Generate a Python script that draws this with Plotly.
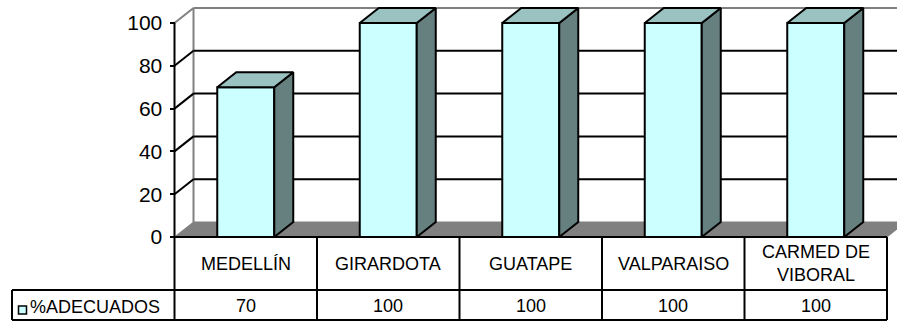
import plotly.graph_objects as go

# ---- data ----
categories = ["MEDELLÍN", "GIRARDOTA", "GUATAPE", "VALPARAISO", "CARMED DE<br>VIBORAL"]
series_name = "%ADECUADOS"
values = [70, 100, 100, 100, 100]
y_ticks = [0, 20, 40, 60, 80, 100]

# ---- style / geometry ----
W, H = 897, 322
FONT = "Liberation Sans"
FRONT = "#CCFFFF"
TOP = "#99C2C0"
SIDE = "#668080"
GRAY = "#808080"
BAR_W = 0.4
DX = 19 / 142.5      # depth offset in x units
DY = 15 / 2.14       # depth offset in y units
X_RANGE = [-0.5 - 174.5 / 142.5, 4.5 + 10 / 142.5]
Y_RANGE = [-(322 - 237) / 2.14, 100 + 23 / 2.14]
YMAX = y_ticks[-1]
TFS = 18


def py(p):  # pixel row -> paper y
    return 1 - p / H


def px(p):  # pixel column -> paper x
    return p / W


n = len(categories)
xs = list(range(n))
x_left = -0.5
x_right = n - 0.5

fig = go.Figure()

# front faces
fig.add_trace(go.Bar(x=xs, y=values, width=BAR_W, base=0,
                     marker=dict(color=FRONT, line=dict(color="black", width=2)),
                     hoverinfo="skip", showlegend=False))

# side and top faces
for x, v in zip(xs, values):
    r = x + BAR_W / 2
    l = x - BAR_W / 2
    fig.add_trace(go.Scatter(x=[r, r + DX, r + DX, r, r], y=[0, DY, v + DY, v, 0],
                             mode="lines", fill="toself", fillcolor=SIDE,
                             line=dict(color="black", width=2),
                             hoverinfo="skip", showlegend=False))
    fig.add_trace(go.Scatter(x=[l, l + DX, r + DX, r, l], y=[v, v + DY, v + DY, v, v],
                             mode="lines", fill="toself", fillcolor=TOP,
                             line=dict(color="black", width=2),
                             hoverinfo="skip", showlegend=False))

shapes = []
# floor
shapes.append(dict(type="path", xref="x", yref="y", layer="below",
                   path=f"M {x_left},0 L {x_right},0 L {x_right + DX},{DY} L {x_left + DX},{DY} Z",
                   fillcolor=GRAY, line=dict(color=GRAY, width=1)))
# back wall left edge
shapes.append(dict(type="line", xref="x", yref="y", layer="below",
                   x0=x_left + DX, x1=x_left + DX, y0=DY, y1=YMAX + DY,
                   line=dict(color=GRAY, width=2)))
# gridlines on back wall + side wall diagonals
for t in y_ticks[1:]:
    col = GRAY if t == YMAX else "black"
    shapes.append(dict(type="line", xref="x", yref="y", layer="below",
                       x0=x_left + DX, x1=X_RANGE[1] + 0.2, y0=t + DY, y1=t + DY,
                       line=dict(color=col, width=2)))
    shapes.append(dict(type="line", xref="x", yref="y", layer="below",
                       x0=x_left, x1=x_left + DX, y0=t, y1=t + DY,
                       line=dict(color=col, width=2)))

# front value axis line
shapes.append(dict(type="line", xref="x", yref="y", x0=x_left, x1=x_left, y0=0, y1=YMAX,
                   line=dict(color="black", width=2)))

# data table lines
row1 = py(290)
row2 = py(320)
shapes.append(dict(type="line", xref="x", yref="y", x0=x_left, x1=x_right, y0=0, y1=0,
                   line=dict(color="black", width=2)))
for k in range(n + 1):
    shapes.append(dict(type="line", xref="x", yref="paper", x0=x_left + k, x1=x_left + k,
                       y0=row2, y1=py(237), line=dict(color="black", width=2)))
shapes.append(dict(type="line", xref="paper", yref="paper", x0=px(12), x1=px(12),
                   y0=row2, y1=row1, line=dict(color="black", width=2)))
for ry in (row1, row2):
    shapes.append(dict(type="line", xref="paper", yref="paper", x0=px(12),
                       x1=px(174.5 + n * 142.5), y0=ry, y1=ry,
                       line=dict(color="black", width=2)))
# legend key
shapes.append(dict(type="rect", xref="paper", yref="paper", x0=px(18.5), x1=px(26.5),
                   y0=py(314), y1=py(306), fillcolor=FRONT,
                   line=dict(color="black", width=1.5)))

annotations = []
for x, c, v in zip(xs, categories, values):
    annotations.append(dict(x=x, y=py(263.5), xref="x", yref="paper", text=c,
                            showarrow=False, font=dict(family=FONT, size=TFS, color="black"),
                            xanchor="center", yanchor="middle"))
    annotations.append(dict(x=x, y=py(306), xref="x", yref="paper", text=str(v),
                            showarrow=False, font=dict(family=FONT, size=TFS, color="black"),
                            xanchor="center", yanchor="middle"))
annotations.append(dict(x=px(28), y=py(306.5), xref="paper", yref="paper", text=series_name,
                        showarrow=False, font=dict(family=FONT, size=TFS, color="black"),
                        xanchor="left", yanchor="middle"))

fig.update_layout(
    width=W, height=H,
    margin=dict(l=0, r=0, t=0, b=0),
    paper_bgcolor="white", plot_bgcolor="white",
    showlegend=False,
    xaxis=dict(range=X_RANGE, visible=False, fixedrange=True),
    yaxis=dict(range=Y_RANGE, anchor="free", position=174.5 / W, side="left",
               tickvals=y_ticks, ticktext=[str(t) for t in y_ticks],
               ticks="outside", ticklen=5, tickwidth=2, tickcolor="black",
               ticklabelstandoff=3,
               showgrid=False, zeroline=False, showline=False,
               tickfont=dict(family=FONT, size=21, color="black"), fixedrange=True),
    shapes=shapes,
    annotations=annotations,
    font=dict(family=FONT),
)

fig.write_html("out.html")
